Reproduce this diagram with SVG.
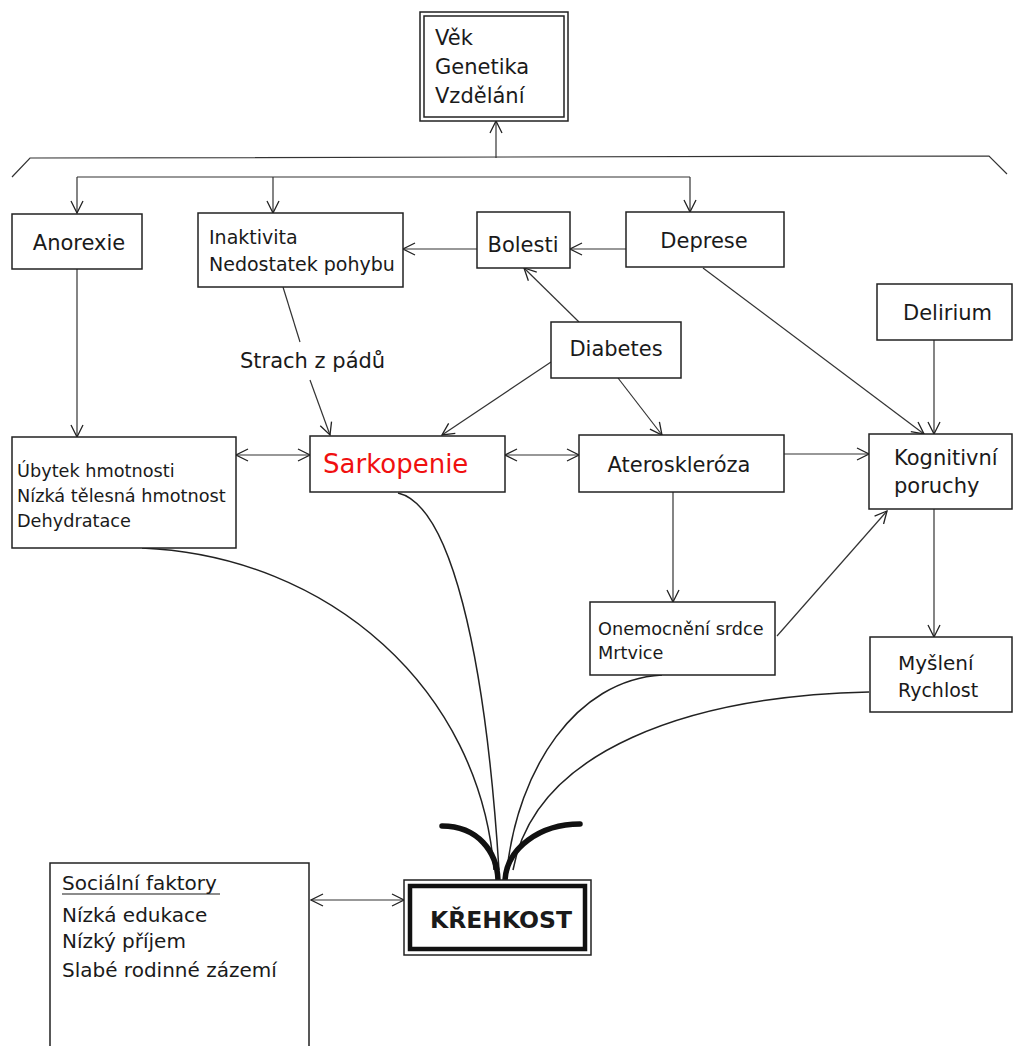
<svg xmlns="http://www.w3.org/2000/svg" width="1013" height="1046" viewBox="0 0 1013 1046">
<style>
  .box { fill: #fff; stroke: #222; stroke-width: 1.5; }
  .t { font-family: "DejaVu Sans", Verdana, sans-serif; fill: #1a1a1a; }
  .c { fill: none; stroke: #333; stroke-width: 1.2; }
  .cv { fill: none; stroke: #222; stroke-width: 1.5; }
  .thick { fill: none; stroke: #111; stroke-width: 5.5; stroke-linecap: round; }
</style>
<defs>
  <marker id="ah" viewBox="0 0 14 14" refX="13" refY="7" markerWidth="14" markerHeight="14" markerUnits="userSpaceOnUse" orient="auto-start-reverse">
    <path d="M1,1 L13,7 L1,13" fill="none" stroke="#222" stroke-width="1.3"/>
  </marker>
</defs>
<rect width="1013" height="1046" fill="#fff"/>

<g id="connectors">
  <!-- bracket -->
  <path class="c" d="M12,177 L30,158 L989,156 L1007,174"/>
  <path class="c" d="M496,158 L496,121" marker-end="url(#ah)"/>
  <path class="c" d="M77,177 L690,177"/>
  <path class="c" d="M77,177 L77,213" marker-end="url(#ah)"/>
  <path class="c" d="M273,177 L273,213" marker-end="url(#ah)"/>
  <path class="c" d="M690,177 L690,212" marker-end="url(#ah)"/>
  <!-- row 2 -->
  <path class="c" d="M626,249 L570,249" marker-end="url(#ah)"/>
  <path class="c" d="M477,249 L403,249" marker-end="url(#ah)"/>
  <path class="c" d="M77,269 L77,437" marker-end="url(#ah)"/>
  <path class="c" d="M283,287 L300,342"/>
  <path class="c" d="M310,380 L330,435" marker-end="url(#ah)"/>
  <path class="c" d="M579,322 L524,268" marker-end="url(#ah)"/>
  <path class="c" d="M551,362 L442,435" marker-end="url(#ah)"/>
  <path class="c" d="M618,378 L662,435" marker-end="url(#ah)"/>
  <path class="c" d="M703,268 L924,434" marker-end="url(#ah)"/>
  <path class="c" d="M934,340 L934,434" marker-end="url(#ah)"/>
  <path class="c" d="M236,455 L310,455" marker-start="url(#ah)" marker-end="url(#ah)"/>
  <path class="c" d="M505,455 L579,455" marker-start="url(#ah)" marker-end="url(#ah)"/>
  <path class="c" d="M784,454 L869,454" marker-end="url(#ah)"/>
  <path class="c" d="M673,492 L673,602" marker-end="url(#ah)"/>
  <path class="c" d="M777,636 L887,511" marker-end="url(#ah)"/>
  <path class="c" d="M934,509 L934,637" marker-end="url(#ah)"/>
  <path class="c" d="M311,900 L404,900" marker-start="url(#ah)" marker-end="url(#ah)"/>
  <!-- curves into KŘEHKOST -->
  <path class="cv" d="M142,548 C 330,556 480,690 494,870"/>
  <path class="cv" d="M398,493 C 450,505 485,650 499,870"/>
  <path class="cv" d="M662,675 C 575,680 518,770 507,870"/>
  <path class="cv" d="M869,692 C 690,696 535,750 513,870"/>
  <path class="thick" d="M442,826 C 478,826 497,852 498,880"/>
  <path class="thick" d="M580,824 C 540,824 507,848 505,880"/>
</g>

<g id="n-vek">
  <rect class="box" x="420" y="12" width="148" height="109" stroke-width="2"/>
  <rect class="box" x="424" y="16" width="140" height="101"/>
  <text class="t" x="435" y="45" font-size="21">Věk</text>
  <text class="t" x="435" y="74" font-size="21">Genetika</text>
  <text class="t" x="435" y="103" font-size="21">Vzdělání</text>
</g>

<g id="n-anorexie">
  <rect class="box" x="12" y="214" width="130" height="55"/>
  <text class="t" x="79" y="250" font-size="21" text-anchor="middle">Anorexie</text>
</g>

<g id="n-inaktivita">
  <rect class="box" x="198" y="213" width="205" height="74"/>
  <text class="t" x="209" y="244" font-size="19">Inaktivita</text>
  <text class="t" x="209" y="271" font-size="19">Nedostatek pohybu</text>
</g>

<g id="n-bolesti">
  <rect class="box" x="477" y="212" width="93" height="56"/>
  <text class="t" x="523" y="252" font-size="21" text-anchor="middle">Bolesti</text>
</g>

<g id="n-deprese">
  <rect class="box" x="626" y="212" width="158" height="55"/>
  <text class="t" x="704" y="248" font-size="21" text-anchor="middle">Deprese</text>
</g>

<g id="n-delirium">
  <rect class="box" x="877" y="284" width="135" height="56"/>
  <text class="t" x="903" y="320" font-size="21">Delirium</text>
</g>

<g id="n-diabetes">
  <rect class="box" x="551" y="322" width="130" height="56"/>
  <text class="t" x="616" y="356" font-size="21" text-anchor="middle">Diabetes</text>
</g>

<g id="n-strach">
  <text class="t" x="240" y="368" font-size="21">Strach z pádů</text>
</g>

<g id="n-ubytek">
  <rect class="box" x="12" y="437" width="224" height="111"/>
  <text class="t" x="17" y="477" font-size="17.7">Úbytek hmotnosti</text>
  <text class="t" x="17" y="502" font-size="17.7">Nízká tělesná hmotnost</text>
  <text class="t" x="17" y="527" font-size="17.7">Dehydratace</text>
</g>

<g id="n-sarkopenie">
  <rect class="box" x="310" y="436" width="195" height="56"/>
  <text class="t" x="323" y="473" font-size="26" fill="#f00" style="fill:#f01010">Sarkopenie</text>
</g>

<g id="n-ateroskleroza">
  <rect class="box" x="579" y="435" width="205" height="57"/>
  <text class="t" x="679" y="472" font-size="21" text-anchor="middle">Ateroskleróza</text>
</g>

<g id="n-kognitivni">
  <rect class="box" x="869" y="434" width="143" height="75"/>
  <text class="t" x="894" y="465" font-size="21">Kognitivní</text>
  <text class="t" x="894" y="493" font-size="21">poruchy</text>
</g>

<g id="n-onemocneni">
  <rect class="box" x="590" y="602" width="185" height="73"/>
  <text class="t" x="598" y="635" font-size="17.7">Onemocnění srdce</text>
  <text class="t" x="598" y="659" font-size="17.7">Mrtvice</text>
</g>

<g id="n-mysleni">
  <rect class="box" x="870" y="637" width="142" height="75"/>
  <text class="t" x="898" y="670" font-size="20">Myšlení</text>
  <text class="t" x="898" y="697" font-size="19">Rychlost</text>
</g>

<g id="n-krehkost">
  <rect class="box" x="404" y="880" width="187" height="75"/>
  <rect x="410" y="886" width="175" height="63" fill="none" stroke="#111" stroke-width="4.5"/>
  <text class="t" x="501" y="928" font-size="23.5" font-weight="bold" text-anchor="middle">KŘEHKOST</text>
</g>

<g id="n-socialni">
  <path class="box" d="M50,1047 L50,863 L309,863 L309,1047"/>
  <text class="t" x="62" y="890" font-size="20">Sociální faktory</text>
  <line x1="62" y1="894" x2="220" y2="894" stroke="#1a1a1a" stroke-width="1.2"/>
  <text class="t" x="62" y="922" font-size="20">Nízká edukace</text>
  <text class="t" x="62" y="948" font-size="20">Nízký příjem</text>
  <text class="t" x="62" y="977" font-size="20">Slabé rodinné zázemí</text>
</g>
</svg>
